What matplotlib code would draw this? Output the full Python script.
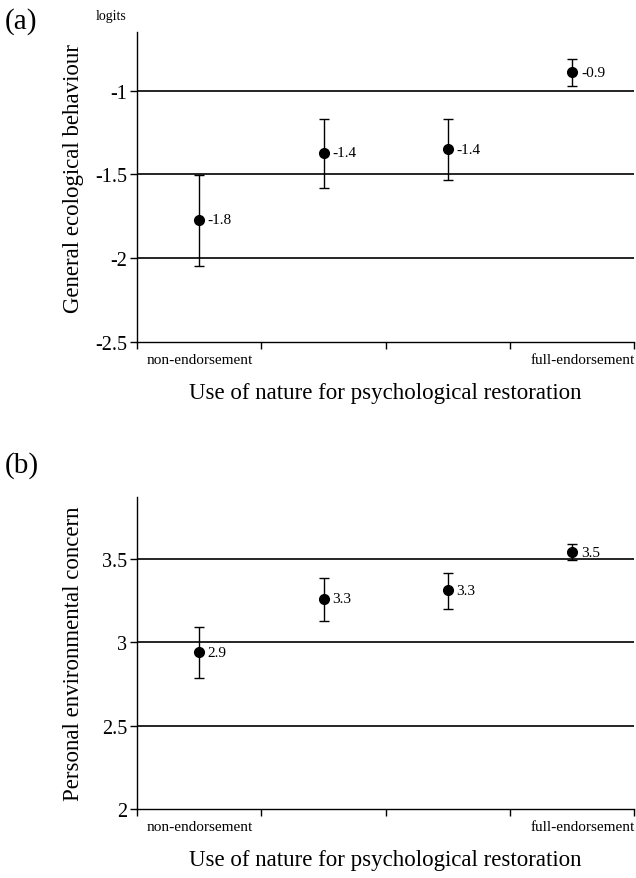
import matplotlib
matplotlib.use('Agg')
import matplotlib.pyplot as plt

# group positions on the endorsement scale
groups = [0.5, 1.5, 2.5, 3.5]

# panel (a): general ecological behaviour (logits)
geb_mean = [-1.77, -1.37, -1.35, -0.89]
geb_upper = [-1.505, -1.17, -1.17, -0.81]
geb_lower = [-2.045, -1.58, -1.535, -0.975]
geb_labels = ['-1.8', '-1.4', '-1.4', '-0.9']
geb_ticks = [-2.5, -2, -1.5, -1]
geb_ticklabels = ['-2.5', '-2', '-1.5', '-1']

# panel (b): personal environmental concern
pec_mean = [2.94, 3.26, 3.31, 3.54]
pec_upper = [3.09, 3.385, 3.415, 3.59]
pec_lower = [2.785, 3.125, 3.20, 3.49]
pec_labels = ['2.9', '3.3', '3.3', '3.5']
pec_ticks = [2, 2.5, 3, 3.5]
pec_ticklabels = ['2', '2.5', '3', '3.5']

plt.rcParams['font.family'] = ['Liberation Serif', 'DejaVu Serif']

fig = plt.figure(figsize=(6.36, 8.79), dpi=100)
ax_a = fig.add_axes([0.2154, 0.6098, 0.782, 0.3527])
ax_b = fig.add_axes([0.2154, 0.0785, 0.782, 0.355])


def draw_panel(ax, mean, upper, lower, labels, ticks, ticklabels, ylim, ylabel, ylab_pos):
    yerr = [[m - lo for m, lo in zip(mean, lower)], [up - m for m, up in zip(mean, upper)]]
    for t in ticks[1:]:
        ax.axhline(t, color='black', lw=1.2, zorder=1)
    ax.errorbar(groups, mean, yerr=yerr, fmt='o', color='black', ms=7,
                ecolor='black', elinewidth=1, capsize=3.5, capthick=1, zorder=3)
    for x, y, s in zip(groups, mean, labels):
        ax.text(x + 0.07, y, s, fontsize=11, va='center', ha='left')
    ax.set_xlim(0, 4)
    ax.set_ylim(*ylim)
    ax.set_xticks([0, 1, 2, 3, 4])
    ax.set_xticklabels([])
    ax.set_yticks(ticks)
    ax.set_yticklabels(ticklabels, fontsize=14.5)
    ax.tick_params(axis='both', direction='out', length=5, width=1, color='black')
    ax.tick_params(axis='y', pad=2)
    for side in ['top', 'right']:
        ax.spines[side].set_visible(False)
    for side in ['left', 'bottom']:
        ax.spines[side].set_linewidth(1)
    ax.set_ylabel(ylabel, fontsize=16.5)
    ax.yaxis.set_label_coords(-0.107, ylab_pos)
    ax.set_xlabel('Use of nature for psychological restoration', fontsize=16.5, labelpad=20)
    ax.text(0.02, -0.035, 'non-endorsement', transform=ax.transAxes,
            fontsize=11, ha='left', va='top')
    ax.text(1.0, -0.035, 'full-endorsement', transform=ax.transAxes,
            fontsize=11, ha='right', va='top')


draw_panel(ax_a, geb_mean, geb_upper, geb_lower, geb_labels, geb_ticks, geb_ticklabels,
           (-2.5, -0.65), 'General ecological behaviour', 0.53)
draw_panel(ax_b, pec_mean, pec_upper, pec_lower, pec_labels, pec_ticks, pec_ticklabels,
           (2, 3.87), 'Personal environmental concern', 0.5)

fig.text(0.008, 0.976, '(a)', fontsize=21, ha='left', va='center')
fig.text(0.008, 0.470, '(b)', fontsize=21, ha='left', va='center')
fig.text(0.175, 0.981, 'logits', fontsize=10, ha='center', va='center')

fig.savefig('out.png', dpi=100)
